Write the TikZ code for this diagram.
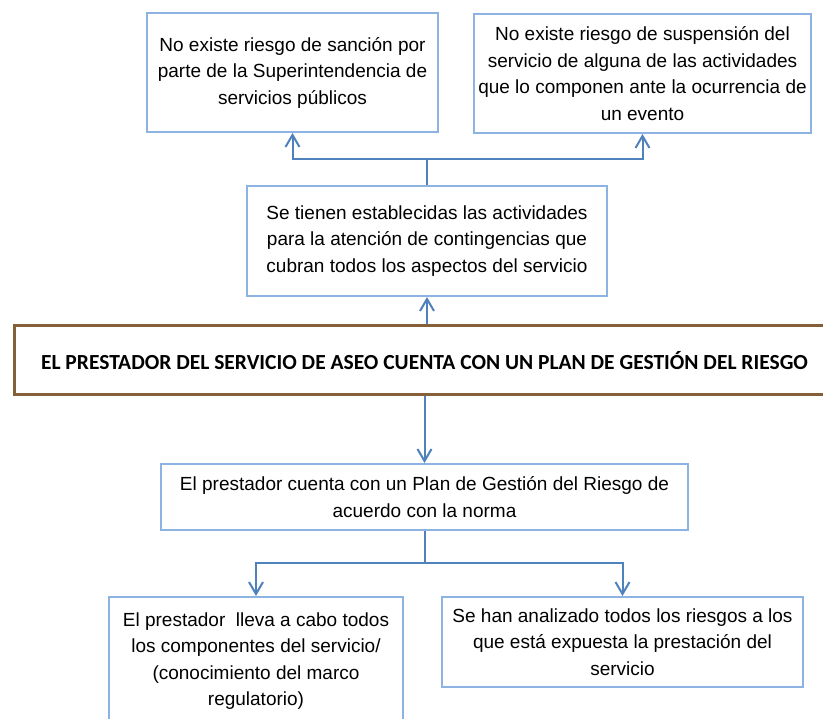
\documentclass[tikz,border=0pt]{standalone}
\usepackage{fontspec}
\setmainfont{Liberation Sans}
\newfontfamily\calibrifont{Carlito}
\usetikzlibrary{arrows.meta}
\definecolor{bordeazul}{RGB}{141,179,226}
\definecolor{flechaazul}{RGB}{79,129,189}
\definecolor{cafe}{RGB}{132,96,56}
\tikzset{
  caja/.style={
    draw=bordeazul,
    line width=2pt,
    align=center,
    inner sep=0pt,
    font=\fontsize{19}{26.5}\selectfont
  },
  cajaprincipal/.style={
    draw=cafe,
    line width=3pt,
    align=center,
    inner sep=0pt,
    minimum width=821pt,
    minimum height=69pt,
    font=\calibrifont\bfseries\fontsize{21.5}{24}\selectfont
  },
  linea/.style={
    draw=flechaazul,
    line width=2pt
  },
  flecha/.style={
    linea,
    -{Straight Barb[length=12pt,width=14pt,line width=2pt]}
  }
}
\begin{document}
\begin{tikzpicture}[x=1pt,y=-1pt]
  \clip (0,0) rectangle (823,719);
  \fill[white] (0,0) rectangle (823,719);
  % cajas de arriba
  \node[caja,minimum width=291pt,minimum height=119pt] (sancion) at (292.5,72.5)
    {No existe riesgo de sanción por\\parte de la Superintendencia de\\servicios públicos};
  \node[caja,minimum width=337pt,minimum height=119pt] (suspension) at (642.5,73.5)
    {No existe riesgo de suspensión del\\servicio de alguna de las actividades\\que lo componen ante la ocurrencia de\\un evento};
  \node[caja,minimum width=360pt,minimum height=110pt] (actividades) at (427,241)
    {Se tienen establecidas las actividades\\para la atención de contingencias que\\cubran todos los aspectos del servicio};
  % caja central
  \node[cajaprincipal] (plan) at (424.5,360.5)
    {EL PRESTADOR DEL SERVICIO DE ASEO CUENTA CON UN PLAN DE GESTIÓN DEL RIESGO};
  % cajas de abajo
  \node[caja,minimum width=527pt,minimum height=66pt] (norma) at (424.5,497)
    {El prestador cuenta con un Plan de Gestión del Riesgo de\\acuerdo con la norma};
  \node[caja,minimum width=294pt,minimum height=128pt] (componentes) at (256,661)
    {El prestador\ \ lleva a cabo todos\\los componentes del servicio/\\(conocimiento del marco\\regulatorio)};
  \node[caja,minimum width=361pt,minimum height=90pt] (riesgos) at (622.5,642)
    {Se han analizado todos los riesgos a los\\que está expuesta la prestación del\\servicio};
  % conectores
  \coordinate (arriba) at (427,159);
  \coordinate (abajo) at (424.5,563);
  \draw[linea] (actividades.north) -- (arriba);
  \draw[flecha] (arriba) -| (sancion.south);
  \draw[flecha] (arriba) -| (suspension.south);
  \draw[flecha] (plan.north -| actividades.south) -- (actividades.south);
  \draw[flecha] (plan.south) -- (norma.north);
  \draw[linea] (norma.south) -- (abajo);
  \draw[flecha] (abajo) -| (componentes.north);
  \draw[flecha] (abajo) -| (riesgos.north);
\end{tikzpicture}
\end{document}
